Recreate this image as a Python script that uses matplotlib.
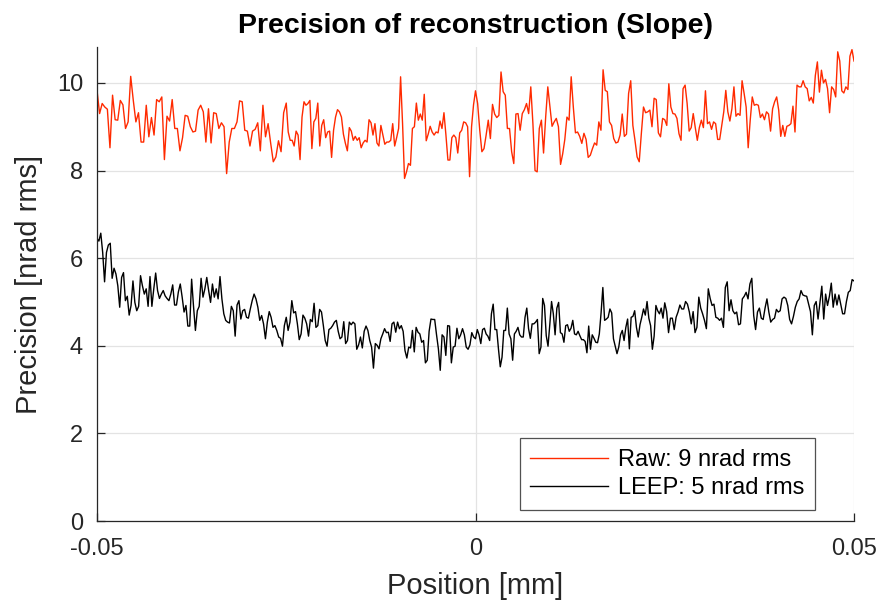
import matplotlib

matplotlib.use("Agg")
import matplotlib.pyplot as plt
import numpy as np

# Position range split in four quarters, each with its own list of samples (mm)
edges = [-0.05, -0.025, 0.0, 0.025, 0.05]

raw_a = [9.83, 9.3, 9.53, 9.45, 9.4, 8.52, 9.72, 9.16, 9.15, 9.6, 9.5, 8.96, 9.11, 10.15, 9.6, 9.11,
         9.32, 8.65, 8.65, 9.49, 8.77, 9.21, 8.81, 9.62, 9.57, 9.68, 8.25, 9.24, 9.13, 9.62, 8.96, 8.96,
         8.45, 8.75, 9.26, 9.24, 9.0, 8.88, 8.9, 9.38, 9.49, 9.34, 8.65, 9.41, 8.63, 9.32, 9.3, 8.96,
         9.09, 9.0, 7.93, 8.65, 8.96, 8.96, 9.11, 9.59, 9.57, 8.92, 8.9, 8.56, 8.9, 8.94, 9.09, 8.45,
         9.49, 8.77, 9.07, 8.62, 8.2, 8.31, 8.68, 8.43, 9.32]
raw_b = [9.54, 8.88, 8.69, 8.69, 8.56, 8.9, 8.81, 8.25, 9.22, 9.57, 9.49, 9.53, 9.6, 8.5, 9.11, 9.19,
         9.54, 8.56, 9.03, 9.16, 8.75, 8.88, 8.9, 8.3, 8.92, 9.22, 9.39, 9.34, 9.22, 8.83, 8.62, 8.45,
         8.98, 8.9, 8.69, 8.78, 8.69, 8.75, 8.52, 8.63, 8.69, 8.65, 9.16, 9.09, 8.81, 9.07, 8.63, 8.56,
         9.03, 8.81, 8.6, 8.65, 8.65, 8.69, 9.07, 8.56, 8.75, 8.96, 10.14, 9.07, 7.82, 7.97, 8.16, 8.12,
         8.96, 9.0, 9.54, 9.15, 9.29, 9.15, 9.74, 8.68, 8.83, 9.01, 8.88, 8.81, 8.88, 8.86, 9.13, 8.96,
         9.32, 8.81, 8.24, 8.24, 8.75, 8.81, 8.75, 8.4, 8.86, 8.92, 9.11, 9.09, 9.0, 7.86, 9.0, 9.5]
raw_c = [9.82, 9.53, 8.92, 8.43, 8.5, 8.81, 9.15, 8.73, 9.51, 9.29, 9.21, 9.26, 10.25, 9.8, 9.72, 8.96,
         8.96, 8.43, 8.16, 9.29, 9.3, 8.92, 9.3, 9.39, 9.53, 9.3, 9.91, 9.07, 8.0, 7.97, 8.96, 9.15,
         8.4, 9.22, 9.91, 9.45, 9.01, 9.11, 9.19, 9.0, 8.14, 8.38, 8.71, 9.22, 9.15, 10.14, 9.45, 8.86,
         8.88, 8.78, 8.62, 8.85, 8.71, 8.3, 8.35, 8.5, 8.63, 8.58, 9.11, 8.92, 10.3, 9.83, 9.8, 9.11,
         9.03, 8.73, 8.63, 8.65, 8.81, 9.29, 8.78, 8.83, 9.76, 10.05, 9.03, 8.69, 8.31, 8.2, 8.85, 9.45,
         9.32, 9.34, 9.38, 9.0, 9.65, 9.62, 8.86, 8.77, 9.19]
raw_d = [9.16, 9.03, 9.98, 9.45, 9.3, 9.29, 9.19, 8.84, 8.69, 9.87, 9.95, 9.53, 8.9, 8.98, 9.3, 8.98,
         8.69, 8.98, 9.15, 8.98, 9.82, 9.07, 9.11, 8.94, 9.11, 9.07, 8.71, 8.71, 9.03, 9.34, 9.83, 9.34,
         9.13, 9.41, 9.91, 9.24, 9.3, 9.26, 10.05, 9.76, 9.45, 8.52, 9.15, 9.68, 9.49, 9.51, 9.49, 9.21,
         9.29, 9.16, 9.34, 9.29, 8.9, 9.41, 9.57, 9.68, 9.38, 8.78, 9.03, 8.78, 9.01, 9.03, 9.07, 9.47,
         8.88, 9.95, 9.91, 9.91, 10.05, 9.91, 9.87, 9.59, 9.67, 9.54, 10.17, 10.48, 9.79, 10.29, 10.0,
         10.08, 9.87, 9.32, 9.91, 9.85, 9.68, 10.71, 10.5, 9.82, 9.77, 9.91, 9.85, 10.61, 10.76, 10.5]

leep_a = [6.45, 6.39, 6.57, 6.13, 5.46, 6.13, 6.3, 6.34, 5.54, 5.77, 5.64, 5.37, 4.88, 5.56, 5.67, 5.03,
          5.13, 4.7, 4.92, 5.48, 4.99, 4.8, 4.9, 5.6, 5.37, 5.18, 5.3, 4.9, 5.58, 4.9, 5.3, 5.66, 5.26,
          5.08, 5.18, 5.26, 5.14, 5.08, 5.03, 5.18, 5.39, 4.93, 4.93, 5.23, 5.41, 5.11, 4.77, 4.92, 4.45,
          4.45, 5.52, 4.9, 4.35, 4.8, 4.9, 5.54, 5.11, 5.3, 5.56, 5.26, 4.99, 5.41, 5.11, 5.3, 5.07, 5.58,
          5.07, 4.73, 4.58, 4.54, 4.52, 4.9, 4.8, 4.22, 4.93, 5.03, 4.61, 4.8, 4.83, 4.65, 4.63, 4.84,
          5.03, 5.18, 5.07, 4.88, 4.58, 4.69, 4.5, 4.16, 4.54, 4.78, 4.65, 4.42, 4.46, 4.35, 4.2, 4.17,
          3.99, 4.46]
leep_b = [4.65, 4.35, 4.54, 5.03, 4.75, 4.78, 4.5, 4.14, 4.27, 4.7, 4.63, 4.5, 4.22, 4.6, 4.55, 4.97,
          4.42, 4.46, 4.83, 4.77, 4.46, 4.12, 3.99, 4.37, 4.4, 4.46, 4.54, 4.58, 4.33, 4.16, 4.2, 4.55,
          4.05, 4.12, 4.54, 4.48, 4.54, 4.5, 3.92, 4.02, 4.2, 3.95, 4.33, 4.45, 4.35, 4.12, 3.97, 3.49,
          4.05, 4.01, 3.93, 4.16, 4.27, 4.39, 4.3, 4.31, 4.1, 4.5, 4.54, 4.31, 4.54, 4.39, 4.46, 4.33,
          3.89, 3.72, 3.97, 3.95, 4.35, 3.86, 4.42, 4.31, 4.27, 4.08, 4.12, 3.61, 3.67, 4.33, 4.61, 4.6,
          4.6, 4.25, 3.93, 3.44, 4.25, 4.2, 3.78, 4.46, 4.45, 3.61, 3.97, 3.99, 4.4, 4.16, 4.25, 4.39,
          4.25, 3.97, 3.92, 4.02, 4.3, 4.2]
leep_c = [4.16, 4.37, 4.25, 4.05, 4.37, 4.4, 4.27, 4.22, 4.12, 4.73, 4.95, 4.37, 4.37, 3.92, 3.52, 3.74,
          4.35, 4.35, 4.86, 4.27, 4.16, 3.67, 4.27, 4.33, 4.42, 4.25, 4.2, 4.2, 4.65, 4.86, 4.39, 4.17,
          4.5, 4.5, 4.54, 4.6, 3.82, 3.97, 5.08, 4.92, 4.23, 3.99, 4.48, 5.01, 4.73, 4.25, 4.86, 4.99,
          4.3, 4.27, 4.08, 4.46, 4.48, 4.33, 4.4, 4.58, 4.27, 4.25, 4.33, 4.23, 4.14, 4.14, 4.1, 3.84,
          4.45, 3.92, 4.25, 4.17, 4.08, 4.07, 4.27, 4.75, 5.33, 4.58, 4.61, 4.65, 4.84, 4.75, 4.16, 3.99,
          3.82, 3.97, 4.25, 4.35, 4.12, 4.42, 4.61, 3.93, 4.65, 4.67, 4.8, 4.42, 4.2, 4.48, 4.65, 4.84,
          4.7, 5.01, 4.63, 4.46, 3.92, 4.22, 4.92, 4.8, 4.73, 4.86, 4.63]
leep_d = [4.98, 4.78, 4.3, 4.63, 4.63, 4.37, 4.65, 4.77, 4.93, 4.84, 4.84, 5.01, 4.95, 4.77, 4.5, 4.78,
          4.3, 4.42, 5.11, 4.86, 4.73, 4.58, 4.39, 5.3, 5.08, 4.92, 4.95, 4.65, 4.63, 4.58, 4.63, 4.42,
          5.33, 5.46, 4.8, 5.05, 4.8, 4.73, 4.77, 4.48, 4.5, 5.07, 5.13, 5.22, 5.07, 5.41, 5.54, 4.69,
          4.37, 4.77, 4.86, 4.63, 4.6, 4.86, 5.07, 4.77, 4.54, 4.6, 4.63, 4.83, 4.77, 4.8, 5.07, 5.11,
          5.08, 4.92, 4.6, 4.5, 4.67, 4.88, 5.01, 5.07, 5.26, 5.16, 5.14, 5.13, 4.95, 4.78, 4.25, 4.92,
          5.01, 4.61, 4.99, 5.36, 4.61, 5.18, 4.92, 5.13, 5.43, 4.88, 5.18, 4.93, 5.16, 4.95, 4.73, 4.73,
          5.01, 5.22, 5.26, 5.51, 5.48]

RAW_COLOR = "#ff2a00"
LEEP_COLOR = "#000000"
TEXT_COLOR = "#262626"
FONT = ["Liberation Sans", "DejaVu Sans"]


def join_chunks(chunks: list[list[float]]) -> tuple[np.ndarray, np.ndarray]:
    xs, ys = [], []
    for i, vals in enumerate(chunks):
        lo, hi = edges[i], edges[i + 1]
        if i < len(chunks) - 1:
            x = np.linspace(lo, hi, len(vals) + 1)[:-1]
        else:
            x = np.linspace(lo, hi, len(vals))
        xs.append(x)
        ys.append(np.asarray(vals))
    return np.concatenate(xs), np.concatenate(ys)


def main() -> None:
    plt.rcParams["font.family"] = FONT
    x_raw, y_raw = join_chunks([raw_a, raw_b, raw_c, raw_d])
    x_leep, y_leep = join_chunks([leep_a, leep_b, leep_c, leep_d])

    fig = plt.figure(figsize=(8.82, 6.04), dpi=100)
    ax = fig.add_axes([97 / 882, 1 - 521 / 604, 757 / 882, 474 / 604])
    ax.plot(x_raw, y_raw, color=RAW_COLOR, lw=1.0, label="Raw: 9 nrad rms")
    ax.plot(x_leep, y_leep, color=LEEP_COLOR, lw=1.0, label="LEEP: 5 nrad rms")

    ax.set_xlim(-0.05, 0.05)
    ax.set_ylim(0, 10.82)
    ax.set_xticks([-0.05, 0, 0.05], ["-0.05", "0", "0.05"])
    ax.set_yticks(range(0, 11, 2))
    ax.grid(True, color="#e3e3e3", lw=0.9)
    ax.set_axisbelow(True)
    for side in ("top", "right"):
        ax.spines[side].set_visible(False)
    for side in ("left", "bottom"):
        ax.spines[side].set_color(TEXT_COLOR)
        ax.spines[side].set_linewidth(0.9)
    ax.tick_params(direction="in", length=6, width=0.9, color=TEXT_COLOR,
                   labelsize=17, labelcolor=TEXT_COLOR)
    ax.tick_params(axis="x", pad=12)
    ax.tick_params(axis="y", pad=10)

    ax.set_xlabel("Position [mm]", fontsize=21, color=TEXT_COLOR, labelpad=9)
    ax.set_ylabel("Precision [nrad rms]", fontsize=21, color=TEXT_COLOR, labelpad=10)
    ax.set_title("Precision of reconstruction (Slope)", fontsize=20.5, fontweight="bold", pad=10)

    leg = ax.legend(loc="lower right", bbox_to_anchor=(0.948, 0.023), fontsize=17,
                    frameon=True, fancybox=False, handlelength=3.3, borderpad=0.45,
                    labelspacing=0.28, handletextpad=0.4, borderaxespad=0.0)
    leg.get_frame().set_edgecolor(TEXT_COLOR)
    leg.get_frame().set_linewidth(0.9)

    fig.savefig("out.png", dpi=100)
    plt.close(fig)


if __name__ == "__main__":
    main()
